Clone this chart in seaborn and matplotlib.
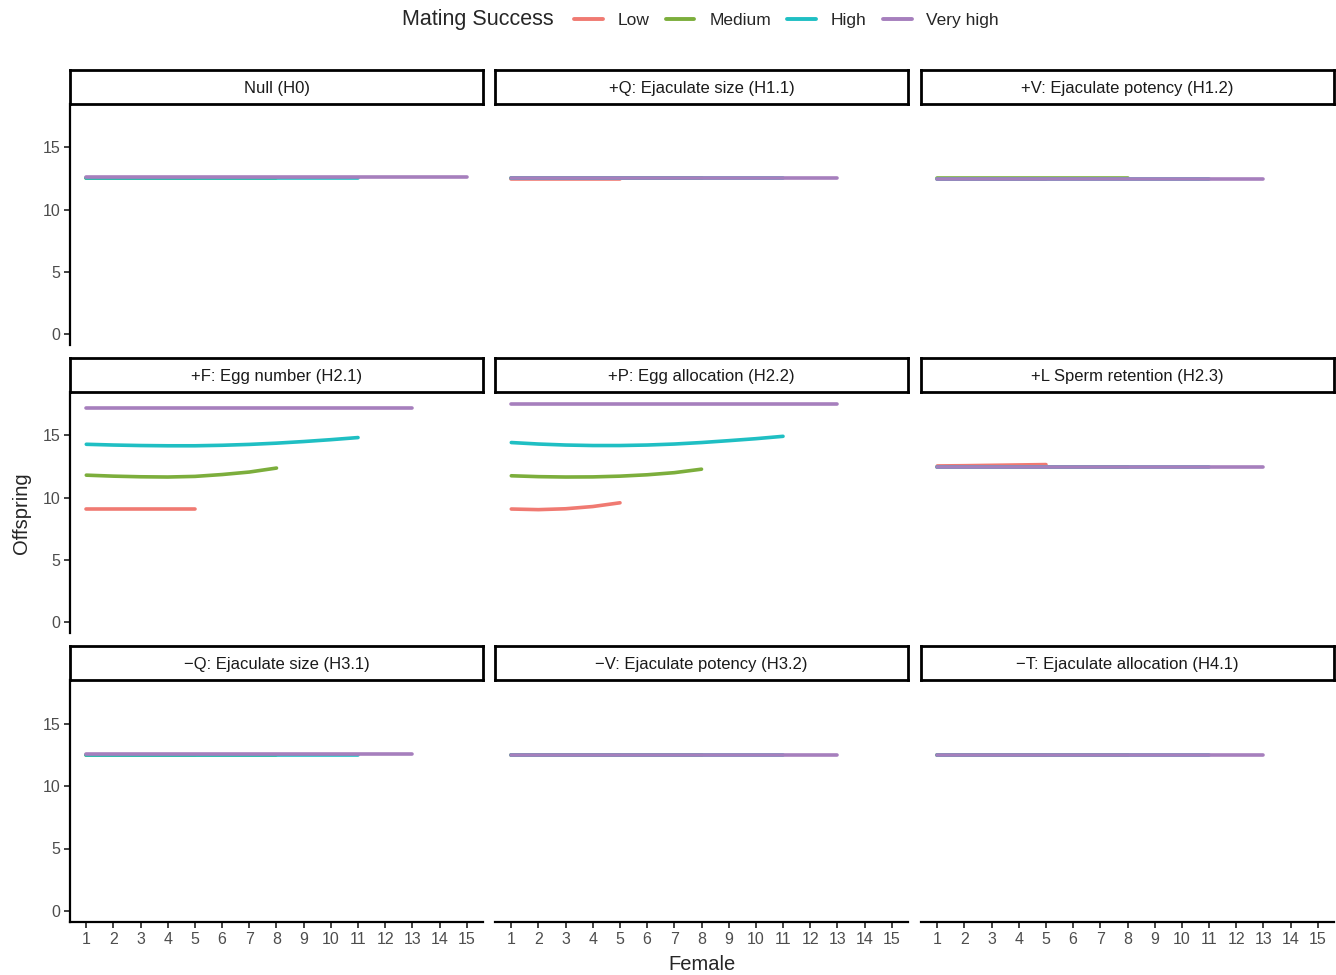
import numpy as np
import pandas as pd
import matplotlib
matplotlib.use("Agg")
import matplotlib.pyplot as plt
from matplotlib.lines import Line2D
import seaborn as sns

# ---- data -----------------------------------------------------------------
levels = ["Low", "Medium", "High", "Very high"]
colors = ["#F07A72", "#7CAE3C", "#1FBFC3", "#A67FBD"]

panels = [
    "Null (H0)",
    "+Q: Ejaculate size (H1.1)",
    "+V: Ejaculate potency (H1.2)",
    "+F: Egg number (H2.1)",
    "+P: Egg allocation (H2.2)",
    "+L Sperm retention (H2.3)",
    "\u2212Q: Ejaculate size (H3.1)",
    "\u2212V: Ejaculate potency (H3.2)",
    "\u2212T: Ejaculate allocation (H4.1)",
]

# offspring per female rank (female 1, 2, ...) for each mating-success level
null_low = [12.5] * 5
null_med = [12.5] * 8
null_high = [12.5] * 11
null_vhigh = [12.6] * 15

q_low = [12.45] * 5
q_med = [12.5] * 8
q_high = [12.5] * 11
q_vhigh = [12.55] * 13

v_low = [12.45] * 5
v_med = [12.53] * 8
v_high = [12.47] * 11
v_vhigh = [12.45] * 13

f_low = [9.1] * 5
f_med = [11.8, 11.72, 11.67, 11.65, 11.7, 11.85, 12.05, 12.37]
f_high = [14.28, 14.22, 14.18, 14.16, 14.16, 14.2, 14.27, 14.37, 14.5, 14.65, 14.82]
f_vhigh = [17.22] * 13

p_low = [9.08, 9.03, 9.1, 9.28, 9.58]
p_med = [11.75, 11.68, 11.65, 11.66, 11.72, 11.83, 12.0, 12.28]
p_high = [14.42, 14.3, 14.22, 14.18, 14.18, 14.22, 14.3, 14.42, 14.57, 14.73, 14.92]
p_vhigh = [17.55] * 13

l_low = [12.54, 12.56, 12.59, 12.62, 12.65]
l_med = [12.45] * 8
l_high = [12.47] * 11
l_vhigh = [12.45] * 13

mq_low = [12.5] * 5
mq_med = [12.5] * 8
mq_high = [12.5] * 11
mq_vhigh = [12.55] * 13

mv_low = [12.5] * 5
mv_med = [12.5] * 8
mv_high = [12.5] * 11
mv_vhigh = [12.5] * 13

mt_low = [12.5] * 5
mt_med = [12.5] * 8
mt_high = [12.5] * 11
mt_vhigh = [12.52] * 13

series = [
    [null_low, null_med, null_high, null_vhigh],
    [q_low, q_med, q_high, q_vhigh],
    [v_low, v_med, v_high, v_vhigh],
    [f_low, f_med, f_high, f_vhigh],
    [p_low, p_med, p_high, p_vhigh],
    [l_low, l_med, l_high, l_vhigh],
    [mq_low, mq_med, mq_high, mq_vhigh],
    [mv_low, mv_med, mv_high, mv_vhigh],
    [mt_low, mt_med, mt_high, mt_vhigh],
]

female_ticks = list(range(1, 16))
offspring_ticks = [0, 5, 10, 15]

rows = []
for name, group in zip(panels, series):
    for lev, vals in zip(levels, group):
        for i, v in enumerate(vals):
            rows.append({"panel": name, "Mating Success": lev,
                         "Female": i + 1, "Offspring": v})
df = pd.DataFrame(rows)

# ---- figure ---------------------------------------------------------------
sns.set_theme(style="white")
plt.rcParams["font.family"] = ["Liberation Sans", "DejaVu Sans"]

W, H = 1336, 975
fig = plt.figure(figsize=(W / 100, H / 100), dpi=100)
palette = dict(zip(levels, colors))

col_x = [(70, 483), (495, 908), (921, 1334)]
row_y = [((70, 104), (104, 345)), ((358, 392), (392, 633)), ((646, 680), (680, 922))]


def fx(px):
    return px / W


def fy(py):
    return 1 - py / H


axis_grey = "#333333"
for k, name in enumerate(panels):
    r, c = divmod(k, 3)
    x0, x1 = col_x[c]
    (s0, s1), (p0, p1) = row_y[r]
    ax = fig.add_axes([fx(x0), fy(p1), fx(x1) - fx(x0), fy(p0) - fy(p1)])
    sub = df[df["panel"] == name]
    sns.lineplot(data=sub, x="Female", y="Offspring", hue="Mating Success",
                 hue_order=levels, palette=palette, linewidth=2.6,
                 legend=False, ax=ax)
    ax.set_xlim(0.4, 15.6)
    ax.set_ylim(-0.88, 18.48)
    ax.set_xticks(female_ticks)
    ax.set_yticks(offspring_ticks)
    ax.set_xlabel("")
    ax.set_ylabel("")
    for s in ["top", "right", "left", "bottom"]:
        ax.spines[s].set_visible(False)
    ax.tick_params(axis="both", colors=axis_grey, labelcolor="#4D4D4D",
                   labelsize=11.5, length=4, width=1.3, pad=3,
                   bottom=True, left=True)
    if c == 0:
        ax.spines["left"].set_visible(True)
        ax.spines["left"].set_linewidth(1.6)
        ax.spines["left"].set_color("black")
    else:
        ax.tick_params(axis="y", left=False, labelleft=False)
    if r == 2:
        ax.spines["bottom"].set_visible(True)
        ax.spines["bottom"].set_linewidth(1.6)
        ax.spines["bottom"].set_color("black")
    else:
        ax.tick_params(axis="x", bottom=False, labelbottom=False)

    # facet strip
    sax = fig.add_axes([fx(x0), fy(s1), fx(x1) - fx(x0), fy(s0) - fy(s1)])
    sax.set_xticks([])
    sax.set_yticks([])
    for s in sax.spines.values():
        s.set_visible(True)
        s.set_linewidth(2.0)
        s.set_color("black")
    sax.set_facecolor("white")
    sax.text(0.5, 0.45, name, ha="center", va="center", fontsize=12,
             color="#1A1A1A", transform=sax.transAxes)

fig.text(fx(702), fy(965), "Female", ha="center", va="center", fontsize=14.5)
fig.text(fx(21), fy(513), "Offspring", ha="center", va="center",
         rotation=90, fontsize=14.5)

# legend along the top
fig.text(fx(402), fy(20), "Mating Success", ha="left", va="center", fontsize=15.5)
handles = [Line2D([0], [0], color=col, lw=2.8) for col in colors]
fig.legend(handles, levels, loc="center left", ncol=4,
           bbox_to_anchor=(fx(574), fy(20)), frameon=False, fontsize=12.5,
           handlelength=1.65, handletextpad=0.85, columnspacing=0.95,
           borderaxespad=0, borderpad=0)

fig.savefig("out.png", dpi=100, facecolor="white")
